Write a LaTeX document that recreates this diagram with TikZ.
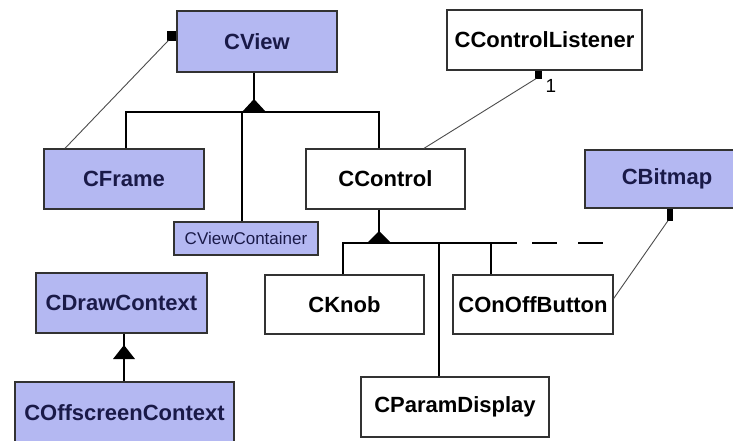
\documentclass[tikz,border=0pt]{standalone}
\usepackage{fontspec}
\setmainfont{Liberation Sans}
\definecolor{classfill}{RGB}{180,184,242}
\definecolor{classtext}{RGB}{26,26,72}
\definecolor{edge}{RGB}{50,50,50}
\tikzset{
  cls/.style={draw=edge, line width=1.3pt, inner sep=0pt, align=center,
    font=\bfseries\fontsize{22}{26}\selectfont},
  blue/.style={cls, fill=classfill, text=classtext},
  plain/.style={cls, fill=white, text=black},
  small/.style={font=\fontsize{17}{20}\selectfont},
  gen/.style={line width=1.3pt, draw=black},
  assoc/.style={line width=0.9pt, draw=black!70},
  knob/.style={fill=black, draw=none},
  tri/.style={fill=black, draw=none}
}
\begin{document}
\begin{tikzpicture}[x=1pt, y=-1pt]
\clip (0,0) rectangle (733,441);
\useasboundingbox (0,0) rectangle (733,441);
\fill[white] (0,0) rectangle (733,441);

% classes
\node[blue, minimum width=160, minimum height=61] (cview) at (257,41.5) {CView};
\node[blue, minimum width=160, minimum height=60] (cframe) at (124,179) {CFrame};
\node[blue, small, minimum width=144, minimum height=33] (cviewcont) at (246,238.5) {\mdseries CViewContainer};
\node[plain, minimum width=159, minimum height=60] (ccontrol) at (385.5,179) {CControl};
\node[plain, minimum width=195, minimum height=60] (clistener) at (544.5,40) {CControlListener};
\node[blue, minimum width=164, minimum height=58] (cbitmap) at (667,179) {CBitmap};
\node[plain, minimum width=159, minimum height=59] (cknob) at (344.5,304.5) {CKnob};
\node[plain, minimum width=160, minimum height=59] (conoff) at (533,304.5) {COnOffButton};
\node[plain, minimum width=188, minimum height=60] (cparam) at (455,407) {CParamDisplay};
\node[blue, minimum width=171, minimum height=60] (cdraw) at (121.5,303) {CDrawContext};
\node[blue, minimum width=219, minimum height=62] (coffscreen) at (124.5,413) {COffscreenContext};

% CView hierarchy
\coordinate (g1) at (254,112);
\draw[gen] ([xshift=-3pt]cview.south) -- ([yshift=12pt]g1);
\fill[tri] ([xshift=-12pt]g1) -- ([yshift=13pt]g1) -- ([xshift=12pt]g1) -- cycle;
\draw[gen] ([xshift=2pt]cframe.north) |- ([xshift=-6.5pt]ccontrol.north |- g1) -- ([xshift=-6.5pt]ccontrol.north);
\draw[gen] ([xshift=-4pt]cviewcont.north) -- ([xshift=-4pt]cviewcont.north |- g1);

% CControl hierarchy
\coordinate (g2) at (379,243);
\draw[gen] ([xshift=-6.5pt]ccontrol.south) -- ([yshift=11pt]g2);
\fill[tri] ([xshift=-12pt]g2) -- ([yshift=12pt]g2) -- ([xshift=12pt]g2) -- cycle;
\draw[gen] ([xshift=-1.5pt]cknob.north) |- ([xshift=-16pt]conoff.north |- g2) coordinate (busend);
\draw[gen] ([xshift=-42pt]conoff.north) -- ([xshift=-42pt]conoff.north |- g2);
\draw[gen] ([xshift=-16pt]cparam.north) -- ([xshift=-16pt]cparam.north |- g2);
\draw[gen, dash pattern=on 0pt off 15pt on 25pt off 21pt on 25pt off 100pt]
  (busend) -- ([xshift=70pt]conoff.north |- g2);

% CDrawContext hierarchy
\coordinate (g3) at (124,359);
\draw[gen] (cdraw.south -| g3) -- (coffscreen.north -| g3);
\fill[tri] ([xshift=-11pt]g3) -- ([yshift=14pt]g3) -- ([xshift=11pt]g3) -- cycle;

% associations
\fill[knob] ([shift={(-9pt,10pt)}]cview.west) rectangle (cview.west);
\draw[assoc] ([xshift=-59pt]cframe.north) -- ([shift={(-8pt,1pt)}]cview.west);

\fill[knob] ([xshift=-9.5pt]clistener.south) rectangle ([shift={(-2.5pt,-8pt)}]clistener.south);
\draw[assoc] ([xshift=38.5pt]ccontrol.north) -- ([shift={(-8.5pt,-8pt)}]clistener.south);
\node[font=\fontsize{19}{22}\selectfont, anchor=center] (mult) at (551,86) {1};

\fill[knob] (cbitmap.south) rectangle ([shift={(6pt,-12pt)}]cbitmap.south);
\draw[assoc] ([shift={(1pt,-12pt)}]cbitmap.south) -- ([yshift=6pt]conoff.east);
\end{tikzpicture}
\end{document}
